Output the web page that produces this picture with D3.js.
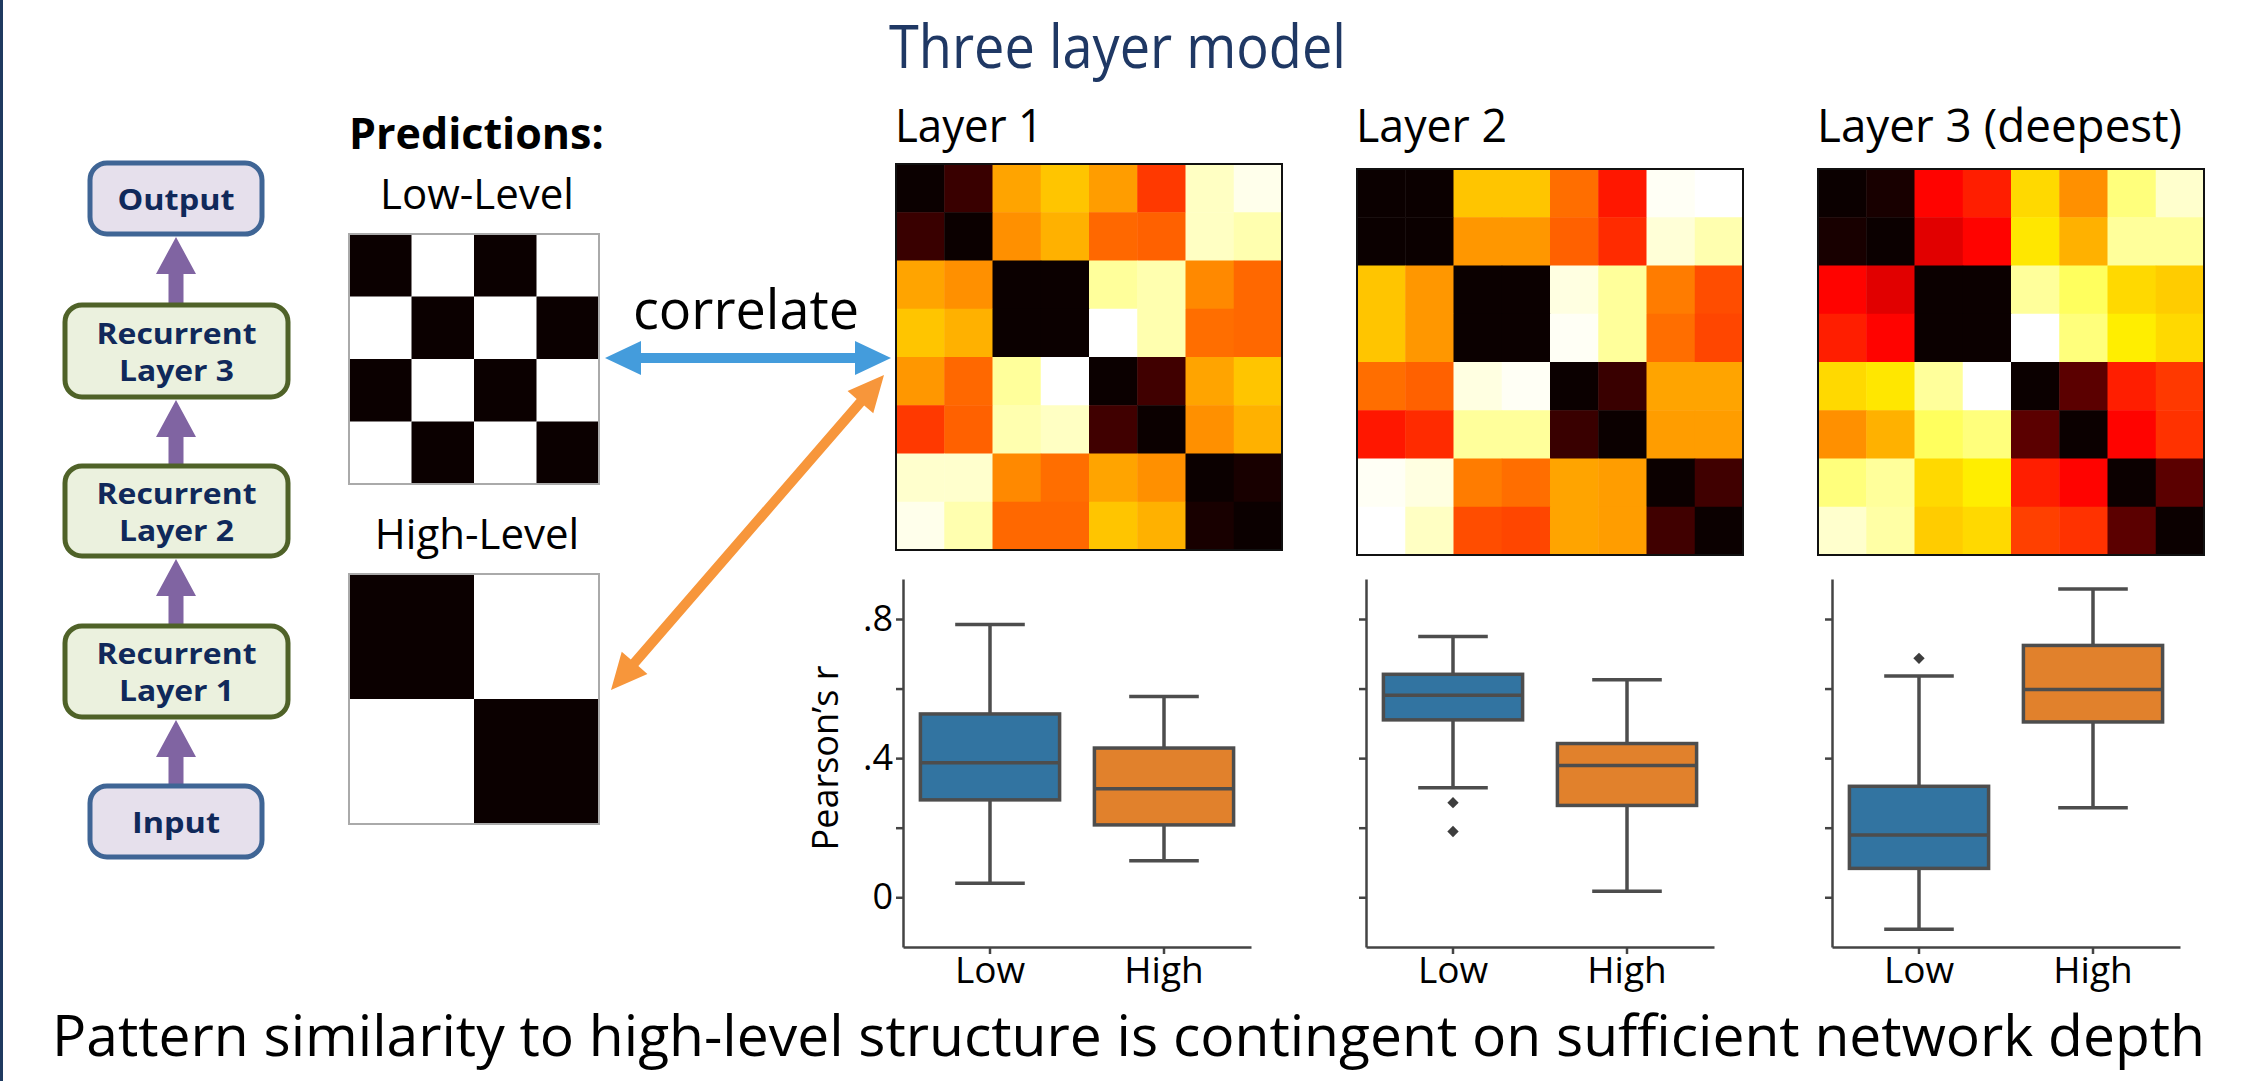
<!DOCTYPE html>
<html>
<head>
<meta charset="utf-8">
<script src="https://cdn.jsdelivr.net/npm/d3@7"></script>
<style>
  html, body { margin: 0; padding: 0; background: #fff; }
  svg { display: block; }
  text { font-family: "Open Sans", sans-serif; }
</style>
</head>
<body>
<svg id="chart" width="2254" height="1081"></svg>
<script>
// ---- data ----
const groups = ["Low", "High"];
const yTicks = [0, 0.2, 0.4, 0.6, 0.8];
const yTickLabels = ["0", "", ".4", "", ".8"];
const layerTitles = ["Layer 1", "Layer 2", "Layer 3 (deepest)"];

// box stats: [lower whisker, q1, median, q3, upper whisker]
const layer1Low  = [0.040, 0.280, 0.387, 0.527, 0.784];
const layer1High = [0.105, 0.208, 0.312, 0.429, 0.577];
const layer2Low  = [0.315, 0.510, 0.581, 0.641, 0.750];
const layer2High = [0.017, 0.264, 0.379, 0.442, 0.625];
const layer3Low  = [-0.092, 0.083, 0.179, 0.319, 0.636];
const layer3High = [0.257, 0.504, 0.597, 0.724, 0.886];
const layer1Outliers = [[], []];
const layer2Outliers = [[0.272, 0.189], []];
const layer3Outliers = [[0.687], []];

// similarity matrices, 0 = black ... 1 = white (matplotlib "hot")
const layer1Matrix = [
  [0.00, 0.07, 0.61, 0.66, 0.60, 0.45, 0.94, 0.98],
  [0.07, 0.00, 0.58, 0.63, 0.52, 0.51, 0.94, 0.92],
  [0.61, 0.58, 0.00, 0.00, 0.90, 0.92, 0.57, 0.52],
  [0.66, 0.63, 0.00, 0.00, 1.00, 0.92, 0.53, 0.52],
  [0.59, 0.52, 0.90, 1.00, 0.00, 0.08, 0.61, 0.66],
  [0.45, 0.51, 0.92, 0.94, 0.08, 0.00, 0.58, 0.63],
  [0.95, 0.95, 0.57, 0.53, 0.61, 0.58, 0.00, 0.02],
  [0.98, 0.92, 0.52, 0.52, 0.66, 0.63, 0.02, 0.00]
];
const layer2Matrix = [
  [0.00, 0.00, 0.66, 0.66, 0.53, 0.40, 0.99, 1.00],
  [0.00, 0.00, 0.59, 0.59, 0.51, 0.43, 0.96, 0.92],
  [0.66, 0.59, 0.00, 0.00, 0.97, 0.90, 0.55, 0.48],
  [0.66, 0.59, 0.00, 0.00, 0.99, 0.90, 0.53, 0.47],
  [0.53, 0.51, 0.97, 0.99, 0.00, 0.07, 0.61, 0.61],
  [0.40, 0.43, 0.90, 0.90, 0.07, 0.00, 0.60, 0.60],
  [0.99, 0.97, 0.55, 0.53, 0.61, 0.60, 0.00, 0.08],
  [1.00, 0.94, 0.48, 0.47, 0.61, 0.60, 0.08, 0.00]
];
const layer3Matrix = [
  [0.00, 0.02, 0.37, 0.41, 0.69, 0.58, 0.87, 0.95],
  [0.02, 0.00, 0.32, 0.37, 0.71, 0.63, 0.90, 0.90],
  [0.37, 0.32, 0.00, 0.00, 0.90, 0.84, 0.69, 0.67],
  [0.41, 0.37, 0.00, 0.00, 1.00, 0.87, 0.72, 0.69],
  [0.69, 0.71, 0.90, 1.00, 0.00, 0.12, 0.41, 0.45],
  [0.58, 0.63, 0.84, 0.87, 0.12, 0.00, 0.37, 0.44],
  [0.87, 0.90, 0.69, 0.72, 0.41, 0.37, 0.00, 0.12],
  [0.95, 0.91, 0.67, 0.69, 0.46, 0.44, 0.12, 0.00]
];
const lowLevelPrediction  = [[0, 1, 0, 1], [1, 0, 1, 0], [0, 1, 0, 1], [1, 0, 1, 0]];
const highLevelPrediction = [[0, 1], [1, 0]];

const networkLabels = [["Output"], ["Recurrent", "Layer 3"], ["Recurrent", "Layer 2"], ["Recurrent", "Layer 1"], ["Input"]];

// ---- drawing ----
const svg = d3.select("#chart");

// slide edge
svg.append("rect").attr("x", 0).attr("y", 0).attr("width", 3).attr("height", 1081).attr("fill", "#1f3a60");

// title + footer
svg.append("text")
    .attr("x", 889).attr("y", 68)
    .attr("textLength", 457).attr("lengthAdjust", "spacingAndGlyphs")
    .attr("font-size", 60).attr("fill", "#1f3864")
    .text("Three layer model");

svg.append("text")
    .attr("x", 52).attr("y", 1056)
    .attr("textLength", 2153).attr("lengthAdjust", "spacingAndGlyphs")
    .attr("font-size", 56).attr("fill", "#000")
    .text("Pattern similarity to high-level structure is contingent on sufficient network depth");

// hot colormap
function hot(t) {
    const r = Math.min(1, 0.0416 + t / 0.365079 * 0.9584);
    const g = Math.max(0, Math.min(1, (t - 0.365079) / (0.746032 - 0.365079)));
    const b = Math.max(0, Math.min(1, (t - 0.746032) / (1 - 0.746032)));
    return d3.rgb(r * 255, g * 255, b * 255).toString();
}
const color = d3.scaleSequential(hot).domain([0, 1]);

// network diagram
const boxes = [
    { y: 163, h: 71, x: 90, w: 172, fill: "#e6e0ec", stroke: "#3f6595" },
    { y: 305, h: 92, x: 65, w: 223, fill: "#ebf1de", stroke: "#4f6228" },
    { y: 466, h: 90, x: 65, w: 223, fill: "#ebf1de", stroke: "#4f6228" },
    { y: 626, h: 91, x: 65, w: 223, fill: "#ebf1de", stroke: "#4f6228" },
    { y: 786, h: 71, x: 90, w: 172, fill: "#e6e0ec", stroke: "#3f6595" }
];
const labelWidths = { "Output": 117, "Recurrent": 160, "Input": 88 };
const net = svg.append("g");
const arrowX = 176;
for (let i = 0; i < boxes.length - 1; i++) {
    const top = boxes[i].y + boxes[i].h + 3;
    const bottom = boxes[i + 1].y;
    net.append("path")
        .attr("d", `M${arrowX},${top} L${arrowX + 20},${top + 37} L${arrowX + 7.5},${top + 37} L${arrowX + 7.5},${bottom}
                    L${arrowX - 7.5},${bottom} L${arrowX - 7.5},${top + 37} L${arrowX - 20},${top + 37} Z`)
        .attr("fill", "#8064a2");
}
boxes.forEach((b, i) => {
    net.append("rect")
        .attr("x", b.x).attr("y", b.y).attr("width", b.w).attr("height", b.h)
        .attr("rx", 17).attr("fill", b.fill).attr("stroke", b.stroke).attr("stroke-width", 5);
    const lines = networkLabels[i];
    const cy = b.y + b.h / 2;
    lines.forEach((l, j) => {
        net.append("text")
            .attr("x", b.x + b.w / 2)
            .attr("y", cy + 11 + (j - (lines.length - 1) / 2) * 37)
            .attr("text-anchor", "middle")
            .attr("font-family", "DejaVu Sans")
            .attr("font-weight", "bold")
            .attr("font-size", 28)
            .attr("textLength", labelWidths[l] || 115)
            .attr("lengthAdjust", "spacingAndGlyphs")
            .attr("fill", "#10295a")
            .text(l);
    });
});

// predictions
svg.append("text").attr("x", 349).attr("y", 149)
    .attr("font-size", 43).attr("font-weight", "bold").text("Predictions:");

function drawMatrix(g, data, x0, y0, size, fillFn) {
    const n = data.length;
    const xs = d3.scaleBand().domain(d3.range(n)).range([x0, x0 + size]);
    const ys = d3.scaleBand().domain(d3.range(n)).range([y0, y0 + size]);
    const cells = data.flatMap((row, r) => row.map((v, c) => ({ r, c, v })));
    g.selectAll(null).data(cells).enter().append("rect")
        .attr("x", d => xs(d.c)).attr("y", d => ys(d.r))
        .attr("width", xs.bandwidth() + 0.5).attr("height", ys.bandwidth() + 0.5)
        .attr("fill", d => fillFn(d.v));
}

const pred = svg.append("g");
pred.append("text").attr("x", 477).attr("y", 209).attr("text-anchor", "middle")
    .attr("font-size", 42).text("Low-Level");
drawMatrix(pred, lowLevelPrediction, 349, 234, 250, v => v ? "#ffffff" : "#0b0000");
pred.append("rect").attr("x", 349).attr("y", 234).attr("width", 250).attr("height", 250)
    .attr("fill", "none").attr("stroke", "#aaa").attr("stroke-width", 2);

pred.append("text").attr("x", 477).attr("y", 549).attr("text-anchor", "middle")
    .attr("font-size", 42).text("High-Level");
drawMatrix(pred, highLevelPrediction, 349, 574, 250, v => v ? "#ffffff" : "#0b0000");
pred.append("rect").attr("x", 349).attr("y", 574).attr("width", 250).attr("height", 250)
    .attr("fill", "none").attr("stroke", "#aaa").attr("stroke-width", 2);

// correlate arrows
function doubleArrow(x1, y1, x2, y2, fill) {
    const ang = Math.atan2(y2 - y1, x2 - x1) * 180 / Math.PI;
    const len = Math.hypot(x2 - x1, y2 - y1);
    const hl = 36, hw = 17, s = 5;
    svg.append("path")
        .attr("transform", `translate(${x1},${y1}) rotate(${ang})`)
        .attr("d", `M0,0 L${hl},${-hw} L${hl},${-s} L${len - hl},${-s} L${len - hl},${-hw} L${len},0
                    L${len - hl},${hw} L${len - hl},${s} L${hl},${s} L${hl},${hw} Z`)
        .attr("fill", fill);
}
svg.append("text").attr("x", 633).attr("y", 329).attr("font-size", 54).text("correlate");
doubleArrow(605, 358, 891, 358, "#449cdc");
doubleArrow(611, 690, 884, 375, "#f7963b");

// heatmaps + boxplots
const heatX = [896, 1357, 1818];
const heatY = [164, 169, 169];
const heatSize = 386;
const titleWidths = [148, 151, 365];
const matrices = [layer1Matrix, layer2Matrix, layer3Matrix];
const boxStats = [[layer1Low, layer1High], [layer2Low, layer2High], [layer3Low, layer3High]];
const outliers = [layer1Outliers, layer2Outliers, layer3Outliers];
const panelX = [903, 1366, 1832];
const panelW = 348;
const boxColors = ["#3274a1", "#e1812c"];
const lineColor = "#4d4d4d";

const y = d3.scaleLinear().domain([-0.143, 0.915]).range([947, 579]);

layerTitles.forEach((t, i) => {
    svg.append("text").attr("x", heatX[i] - 1).attr("y", 142)
        .attr("textLength", titleWidths[i]).attr("lengthAdjust", "spacingAndGlyphs")
        .attr("font-size", 46).text(t);

    const hg = svg.append("g");
    drawMatrix(hg, matrices[i], heatX[i], heatY[i], heatSize, color);
    hg.append("rect").attr("x", heatX[i]).attr("y", heatY[i]).attr("width", heatSize).attr("height", heatSize)
        .attr("fill", "none").attr("stroke", "#111").attr("stroke-width", 2);

    const x = d3.scaleBand().domain(groups).range([panelX[i], panelX[i] + panelW]);
    const g = svg.append("g");

    const yAxis = g.append("g").attr("transform", `translate(${panelX[i]},0)`)
        .call(d3.axisLeft(y).tickValues(yTicks).tickSize(7).tickSizeOuter(0)
            .tickFormat((d, k) => i === 0 ? yTickLabels[k] : ""));
    const xAxis = g.append("g").attr("transform", "translate(0,947)")
        .call(d3.axisBottom(x).tickSize(7).tickSizeOuter(0));
    [yAxis, xAxis].forEach(a => {
        a.selectAll("path, line").attr("stroke", "#444").attr("stroke-width", 2.5);
        a.selectAll("text").attr("fill", "#000").attr("font-family", "Open Sans");
    });
    yAxis.selectAll("text").attr("font-size", 36);
    xAxis.selectAll("text").attr("font-size", 37);

    if (i === 0) {
        g.append("text")
            .attr("transform", `translate(838,758) rotate(-90)`)
            .attr("text-anchor", "middle").attr("font-size", 36)
            .text("Pearson\u2019s r");
    }

    const bw = x.bandwidth() * 0.8;
    groups.forEach((grp, j) => {
        const [lo, q1, med, q3, hi] = boxStats[i][j];
        const cx = x(grp) + x.bandwidth() / 2;
        const lineAttrs = sel => sel.attr("stroke", lineColor).attr("stroke-width", 3.5);
        g.append("line").attr("x1", cx).attr("x2", cx).attr("y1", y(q3)).attr("y2", y(hi)).call(lineAttrs);
        g.append("line").attr("x1", cx).attr("x2", cx).attr("y1", y(q1)).attr("y2", y(lo)).call(lineAttrs);
        g.append("line").attr("x1", cx - bw / 4).attr("x2", cx + bw / 4).attr("y1", y(hi)).attr("y2", y(hi)).call(lineAttrs);
        g.append("line").attr("x1", cx - bw / 4).attr("x2", cx + bw / 4).attr("y1", y(lo)).attr("y2", y(lo)).call(lineAttrs);
        g.append("rect").attr("x", cx - bw / 2).attr("width", bw)
            .attr("y", y(q3)).attr("height", y(q1) - y(q3))
            .attr("fill", boxColors[j]).call(lineAttrs);
        g.append("line").attr("x1", cx - bw / 2).attr("x2", cx + bw / 2).attr("y1", y(med)).attr("y2", y(med)).call(lineAttrs);
        g.selectAll(null).data(outliers[i][j]).enter().append("path")
            .attr("d", d3.symbol(d3.symbolSquare, 64))
            .attr("transform", d => `translate(${cx},${y(d)}) rotate(45)`)
            .attr("fill", "#3d3d3d");
    });
});
</script>
</body>
</html>
